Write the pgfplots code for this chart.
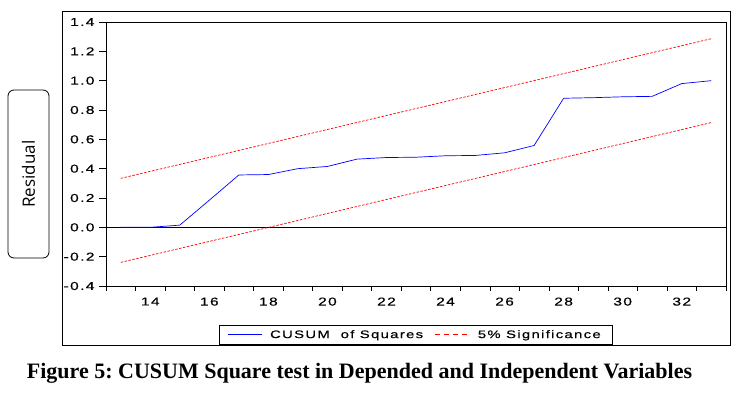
\documentclass[border=0pt]{standalone}
\usepackage{pgfplots}
\pgfplotsset{compat=1.18}
\usepackage{fontspec}
\setmainfont{Liberation Serif}
\newfontfamily\ev[FakeStretch=1.35,LetterSpace=12,FakeBold=0.4]{Liberation Sans}
\newfontfamily\os{Open Sans}
\frenchspacing
\begin{document}
\begin{tikzpicture}[x=1pt,y=1pt]
\path (0,0) rectangle (738,393);
% outer frame
\draw[line width=0.9pt] (62,48) rectangle (730,382);
\begin{axis}[
  at={(106pt,107pt)}, anchor=south west,
  width=620pt, height=264pt, scale only axis,
  xmin=12.5, xmax=33.5, ymin=-0.4, ymax=1.4,
  axis line style={line width=0.8pt},
  xtick={14,16,...,32},
  minor xtick={12.5,13.5,...,33.5},
  ytick={-0.4,-0.2,...,1.41},
  major x tick style={draw=none},
  tick align=outside,
  tick pos=left,
  major tick length=7pt,
  minor tick length=5pt,
  tick style={black, line width=0.6pt},
  /pgf/number format/assume math mode=true,
  tick label style={font=\ev\fontsize{11.5}{13}\selectfont},
  yticklabel style={/pgf/number format/fixed, /pgf/number format/fixed zerofill, /pgf/number format/precision=1, xshift=-1pt},
  xticklabel style={yshift=-1pt},
  legend columns=2,
  legend cell align=left,
  legend style={at={(0.5,-0.2235)}, anchor=south, draw=black, line width=0.8pt,
    font=\ev\fontsize{11}{13}\selectfont, inner xsep=8pt, inner ysep=3pt,
    nodes={inner xsep=4pt, inner ysep=2pt},
    /tikz/every odd column/.append style={column sep=4pt},
    /tikz/every even column/.append style={column sep=8pt}},
]
\addplot[black, line width=0.7pt, forget plot] coordinates {(12.5,0) (33.5,0)};
\addplot[blue, line width=0.7pt,
  legend image code/.code={\draw[draw=blue, line width=0.8pt] (0pt,0pt) -- (34pt,0pt);}] coordinates {
(13,0.000) (14,0.000) (15,0.015) (16,0.185) (17,0.357) (18,0.360)
(19,0.400) (20,0.415) (21,0.465) (22,0.476) (23,0.478) (24,0.488)
(25,0.490) (26,0.508) (27,0.558) (28,0.880) (29,0.884) (30,0.890)
(31,0.893) (32,0.980) (33,1.000)};
\addlegendentry{CUSUM\ \ of Squares}
\addplot[red, line width=0.7pt, dash pattern=on 2.5pt off 1.5pt,
  legend image code/.code={\draw[draw=red, line width=0.8pt, dash pattern=on 5pt off 4pt] (0pt,0pt) -- (34pt,0pt);}] coordinates {
(13,0.334) (33,1.286)};
\addlegendentry{5\% Significance}
\addplot[red, line width=0.7pt, dash pattern=on 2.5pt off 1.5pt, forget plot] coordinates {
(13,-0.239) (33,0.714)};
\end{axis}
\node[draw, line width=0.8pt, rounded corners=6pt, rotate=90, minimum width=168pt, minimum height=41pt, inner sep=0pt, font=\os\fontsize{17}{20}\selectfont] at (28.5,219) {Residual};
\node[anchor=base, font=\bfseries\fontsize{22}{26}\selectfont, inner sep=0pt] at (359.5,14.3) {Figure 5: CUSUM Square test in Depended and Independent Variables};
\end{tikzpicture}
\end{document}
